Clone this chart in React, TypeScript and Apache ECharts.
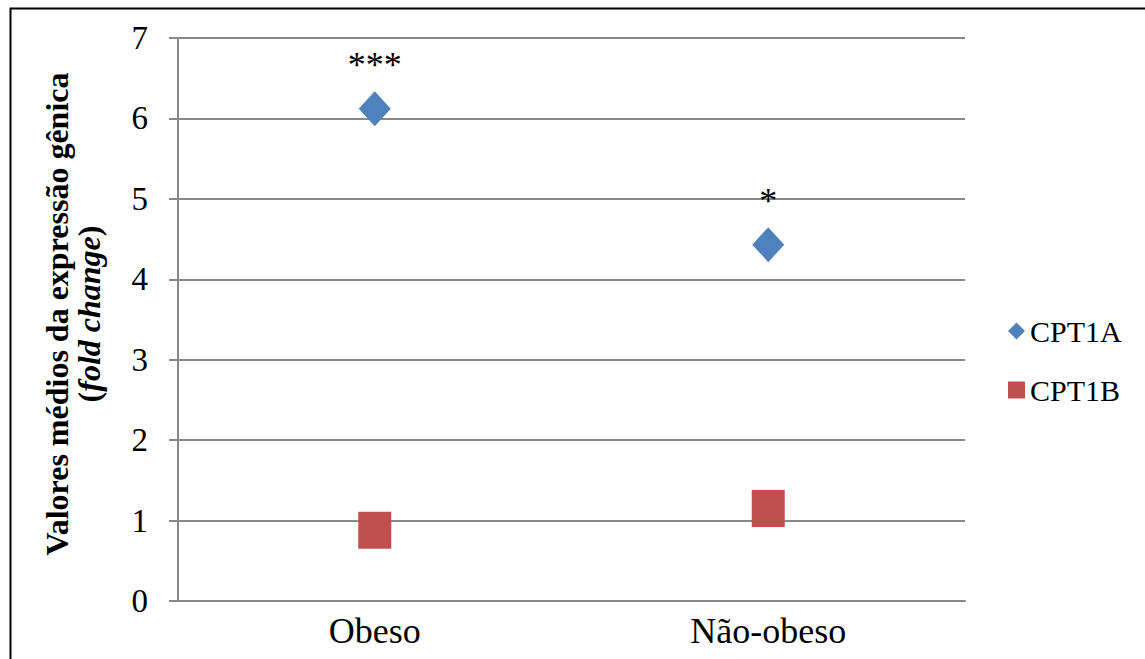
import React, { useEffect, useRef } from "react";
import * as echarts from "echarts";

const categories = ["Obeso", "Não-obeso"];
const seriesNames = ["CPT1A", "CPT1B"];
const cpt1a = [6.12, 4.43];
const cpt1b = [0.88, 1.15];
const cpt1aSignificance = ["***", "*"];
const yMin = 0;
const yMax = 7;
const yInterval = 1;
const yTitleLine1 = "Valores médios da expressão gênica";
const yTitleLine2Italic = "fold change";

const FONT = "'Liberation Serif', 'Times New Roman', Times, serif";
const GRID = "#888888";

export default function App() {
  const ref = useRef<HTMLDivElement>(null);
  useEffect(() => {
    if (!ref.current) return;
    const chart = echarts.init(ref.current, undefined, { renderer: "svg" });
    const option: any = {
      animation: false,
      backgroundColor: "#ffffff",
      grid: { left: 178, right: 180, top: 38, bottom: 58, containLabel: false },
      legend: {
        orient: "vertical",
        left: 1003,
        top: 311,
        itemWidth: 17,
        itemHeight: 17,
        itemGap: 29,
        textStyle: { fontSize: 30, fontFamily: FONT, color: "#000" },
        data: [
          { name: seriesNames[0], icon: "diamond" },
          { name: seriesNames[1], icon: "rect" },
        ],
      },
      xAxis: {
        type: "category",
        data: categories,
        boundaryGap: true,
        axisLine: { show: true, lineStyle: { color: GRID, width: 2 } },
        axisTick: { show: false },
        axisLabel: { fontSize: 36, fontFamily: FONT, color: "#000", margin: 12 },
        splitLine: { show: false },
      },
      yAxis: {
        type: "value",
        min: yMin,
        max: yMax,
        interval: yInterval,
        axisLine: { show: true, lineStyle: { color: GRID, width: 2 } },
        axisTick: { show: true, length: 9, lineStyle: { color: GRID, width: 2 } },
        axisLabel: { fontSize: 33, fontFamily: FONT, color: "#000", margin: 30 },
        splitLine: { show: true, lineStyle: { color: GRID, width: 2 } },
      },
      series: [
        {
          name: seriesNames[0],
          type: "scatter",
          symbol: "diamond",
          symbolSize: [32, 35],
          itemStyle: { color: "#4F81BD", opacity: 1 },
          data: cpt1a.map((v) => ({ value: v })),
          label: {
            show: true,
            position: "top",
            distance: 8,
            fontSize: 36,
            fontFamily: FONT,
            color: "#000",
            opacity: 1,
            formatter: (p: any) => cpt1aSignificance[p.dataIndex],
          },
          z: 5,
        },
        {
          name: seriesNames[1],
          type: "scatter",
          symbol: "rect",
          symbolSize: [33, 37],
          itemStyle: { color: "#C0504D", opacity: 1 },
          data: cpt1b.map((v) => ({ value: v })),
          z: 5,
        },
      ],
      graphic: [
        {
          type: "rect",
          left: 8,
          top: 6,
          shape: { x: 0, y: 0, width: 1200, height: 700 },
          style: { fill: "none", stroke: "#000", lineWidth: 2 },
          silent: true,
        },
        {
          type: "text",
          x: 57,
          y: 314,
          rotation: Math.PI / 2,
          style: {
            text: yTitleLine1,
            fontSize: 32,
            fontWeight: "bold",
            fontFamily: FONT,
            fill: "#000",
            align: "center",
            verticalAlign: "middle",
          },
        },
        {
          type: "text",
          x: 89,
          y: 314,
          rotation: Math.PI / 2,
          style: {
            text: "{p|(}{i|" + yTitleLine2Italic + "}{p|)}",
            align: "center",
            verticalAlign: "middle",
            fill: "#000",
            rich: {
              p: { fontSize: 32, fontWeight: "bold", fontFamily: FONT, fill: "#000" },
              i: { fontSize: 32, fontWeight: "bold", fontStyle: "italic", fontFamily: FONT, fill: "#000" },
            },
          },
        },
      ],
    };
    chart.setOption(option);
    return () => chart.dispose();
  }, []);
  return (
    <div
      ref={ref}
      style={{ position: "fixed", left: 0, top: 0, width: 1145, height: 659 }}
    />
  );
}
